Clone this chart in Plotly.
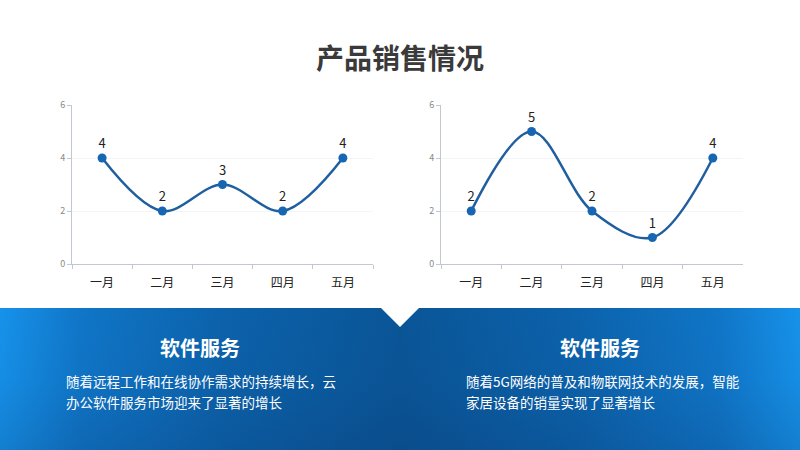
import plotly.graph_objects as go

# data
months = ["一月", "二月", "三月", "四月", "五月"]
sales_left = [4, 2, 3, 2, 4]
sales_right = [2, 5, 2, 1, 4]
y_ticks = [0, 2, 4, 6]

title_text = "产品销售情况"
card_titles = ["软件服务", "软件服务"]
card_lines_left = ["随着远程工作和在线协作需求的持续增长，云", "办公软件服务市场迎来了显著的增长"]
card_lines_right = ["随着5G网络的普及和物联网技术的发展，智能", "家居设备的销量实现了显著增长"]

W, H = 800, 450
FONT = "Noto Sans CJK SC"
LINE = "#1f5f9f"
MARK = "#1766b2"
AXIS = "#c3c7cf"

fig = go.Figure()

# blue panel in pixel coords (decoration)
panel_top = 308
notch_l, notch_c, notch_r, notch_b = 381, 400, 419, 327
px = [0, notch_l, notch_c, notch_r, W, W, 0, 0]
py = [panel_top, panel_top, notch_b, panel_top, panel_top, H, H, panel_top]
fig.add_trace(go.Scatter(
    x=px, y=py, xaxis="x3", yaxis="y3", mode="lines", line=dict(width=0),
    fill="toself", hoverinfo="skip", showlegend=False,
    fillgradient=dict(type="horizontal",
                      colorscale=[[0, "#1692ea"], [0.1, "#1076c8"], [0.28, "#0c62ab"],
                                  [0.5, "#0a5597"], [0.72, "#0c62ab"], [0.9, "#1076c8"],
                                  [1, "#1692ea"]]),
))
fig.add_trace(go.Scatter(
    x=px, y=py, xaxis="x3", yaxis="y3", mode="lines", line=dict(width=0),
    fill="toself", hoverinfo="skip", showlegend=False,
    fillgradient=dict(type="vertical", start=panel_top, stop=H,
                      colorscale=[[0, "rgba(10,40,90,0)"], [0.5, "rgba(10,40,90,0.04)"],
                                  [1, "rgba(10,40,90,0.18)"]]),
))

for vals, xa, ya in [(sales_left, "x", "y"), (sales_right, "x2", "y2")]:
    fig.add_trace(go.Scatter(
        x=months, y=vals, xaxis=xa, yaxis=ya,
        mode="lines+markers+text", text=[str(v) for v in vals],
        textposition="top center", textfont=dict(family=FONT, size=13, color="#222"),
        line=dict(color=LINE, width=2.5, shape="spline", smoothing=1.0),
        marker=dict(color=MARK, size=9),
        cliponaxis=False, showlegend=False, hoverinfo="skip",
    ))

xax = dict(type="category", range=[-0.5, 4.5], showline=True, linecolor=AXIS, linewidth=1,
           ticks="outside", tickson="boundaries", ticklen=4, tickcolor=AXIS,
           ticklabelstandoff=8,
           tickfont=dict(family=FONT, size=12, color="#222"), showgrid=False, zeroline=False,
           fixedrange=True)
yax = dict(range=[0, 6], tickvals=y_ticks, showline=True, linecolor=AXIS, linewidth=1,
           ticks="outside", ticklen=4, tickcolor=AXIS, showgrid=True, gridcolor="#f4f5f7",
           tickfont=dict(family=FONT, size=9, color="#8a8a8a"), zeroline=False, fixedrange=True)

y_dom = [1 - 264 / H, 1 - 105 / H]

annotations = [
    dict(text=f"<b>{title_text}</b>", x=0.5, y=1 - 57 / H, xref="paper", yref="paper",
         showarrow=False, font=dict(family=FONT, size=28, color="#3a3a3a"),
         xanchor="center", yanchor="middle"),
]
for i, cx in enumerate([200, 600]):
    annotations.append(dict(text=f"<b>{card_titles[i]}</b>", x=cx / W, y=1 - 347 / H,
                            xref="paper", yref="paper", showarrow=False,
                            xanchor="center", yanchor="middle",
                            font=dict(family=FONT, size=20, color="white")))
for lines, lx in [(card_lines_left, 64), (card_lines_right, 464)]:
    for j, ln in enumerate(lines):
        annotations.append(dict(text=ln, x=lx / W, y=1 - (381 + 21 * j) / H,
                                xref="paper", yref="paper", showarrow=False,
                                xanchor="left", yanchor="middle",
                                font=dict(family=FONT, size=13.5, color="white")))

fig.update_layout(
    width=W, height=H, margin=dict(l=0, r=0, t=0, b=0, autoexpand=False),
    paper_bgcolor="white", plot_bgcolor="rgba(0,0,0,0)",
    xaxis=dict(xax, domain=[72 / W, 373 / W], anchor="y"),
    yaxis=dict(yax, domain=y_dom, anchor="x"),
    xaxis2=dict(xax, domain=[441 / W, 743 / W], anchor="y2"),
    yaxis2=dict(yax, domain=y_dom, anchor="x2"),
    xaxis3=dict(domain=[0, 1], range=[0, W], visible=False, anchor="y3", fixedrange=True),
    yaxis3=dict(domain=[0, 1], range=[H, 0], visible=False, anchor="x3", fixedrange=True),
    annotations=annotations,
    font=dict(family=FONT),
)

fig.write_html("out.html", config={"displayModeBar": False},
               post_script="document.body.style.margin='0';document.body.style.overflow='hidden';")
